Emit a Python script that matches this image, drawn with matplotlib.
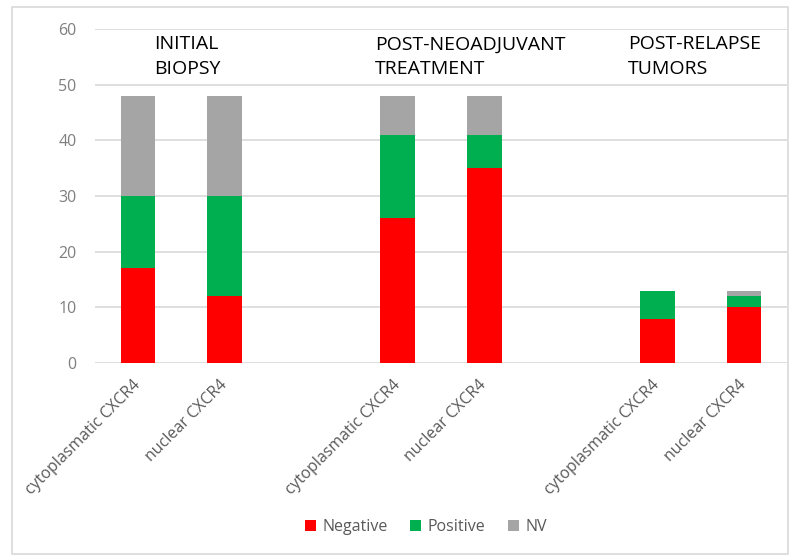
import matplotlib
matplotlib.use("Agg")
import matplotlib.pyplot as plt
from matplotlib.patches import Rectangle
import numpy as np

plt.rcParams['font.family'] = ['Open Sans', 'DejaVu Sans']

categories = ['cytoplasmatic CXCR4', 'nuclear CXCR4', '',
              'cytoplasmatic CXCR4', 'nuclear CXCR4', '',
              'cytoplasmatic CXCR4', 'nuclear CXCR4']
negative = [17, 12, 0, 26, 35, 0, 8, 10]
positive = [13, 18, 0, 15, 6, 0, 5, 2]
nv = [18, 18, 0, 7, 7, 0, 0, 1]
group_titles = ['INITIAL\nBIOPSY', 'POST-NEOADJUVANT\nTREATMENT', 'POST-RELAPSE\nTUMORS']
series_names = ['Negative', 'Positive', 'NV']
colors = ['#FF0000', '#00B050', '#A5A5A5']

fig = plt.figure(figsize=(7.96, 5.57), dpi=100)
fig.patches.append(Rectangle((0.015, 0.005), 0.975, 0.983, transform=fig.transFigure,
                             fill=False, edgecolor='#D9D9D9', linewidth=1.2))
ax = fig.add_axes([0.119, 0.348, 0.870, 0.600])

x = np.arange(len(categories))
neg = np.array(negative, float)
pos = np.array(positive, float)
nvv = np.array(nv, float)
w = 0.40
ax.bar(x, neg, w, color=colors[0], label=series_names[0], zorder=3)
ax.bar(x, pos, w, bottom=neg, color=colors[1], label=series_names[1], zorder=3)
ax.bar(x, nvv, w, bottom=neg + pos, color=colors[2], label=series_names[2], zorder=3)

ax.set_xlim(-0.5, len(categories) - 0.5)
ax.set_ylim(0, 60)
ax.set_yticks(np.arange(0, 61, 10))
ax.yaxis.grid(True, color='#D9D9D9', linewidth=1.2, zorder=0)
ax.set_axisbelow(True)
for s in ax.spines.values():
    s.set_visible(False)
ax.tick_params(axis='y', length=0, labelsize=11.5, labelcolor='#7F7F7F', pad=13)
ax.tick_params(axis='x', length=0, pad=14)
ax.set_xticks(x)
ax.set_xticklabels(categories, rotation=45, ha='right', rotation_mode='anchor',
                   fontsize=11.5, color='#595959')
for lbl in ax.get_xticklabels():
    lbl.set_va('center')

title_x = [0.19, 2.74, 5.66]
for tx, t in zip(title_x, group_titles):
    ax.text(tx, 55.0, t, ha='left', va='center', fontsize=14, color='#000000',
            linespacing=1.5)

leg = fig.legend(loc='center', bbox_to_anchor=(0.535, 0.054), ncol=3, frameon=False,
                 fontsize=11.5, handlelength=0.7, handleheight=0.7, handletextpad=0.4,
                 columnspacing=1.4)
for t in leg.get_texts():
    t.set_color('#595959')

fig.savefig('out.png', dpi=100)
